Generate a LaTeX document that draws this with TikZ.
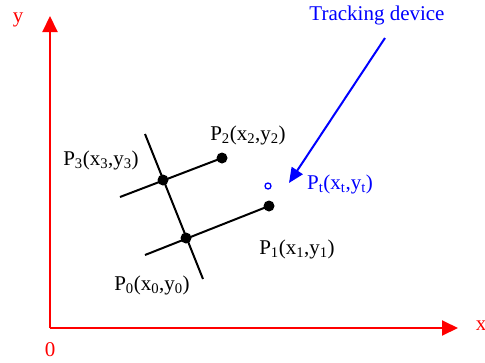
\documentclass[tikz,border=0pt]{standalone}
\usepackage{fontspec}
\setmainfont{Liberation Serif}
\usetikzlibrary{arrows.meta}
\begin{document}
\begin{tikzpicture}[x=1pt,y=-1pt,
  lbl/.style={font=\fontsize{21}{25}\selectfont, inner sep=0pt},
  axis/.style={red, line width=2pt, -{Triangle[length=16pt,width=15pt]}},
  seg/.style={black, line width=2pt},
  dot/.style={circle, fill=black, minimum size=11pt, inner sep=0pt}]
\useasboundingbox (0,0) rectangle (485,362);
% axes
\coordinate (O) at (50,328);
\coordinate (Ytip) at (50,16);
\coordinate (Xtip) at (458,328);
\draw[axis] (O) -- (Ytip);
\draw[axis] (O) -- (Xtip);
\node[lbl, red] (ylab) at (18,20) {y};
\node[lbl, red] (xlab) at (481,326) {x};
\node[lbl, red] (zero) at (50,350) {0};
% points
\node[dot] (P3) at (163,180) {};
\node[dot] (P0) at (186,238) {};
\node[dot] (P2) at (222,158) {};
\node[dot] (P1) at (269,206) {};
\coordinate (A) at (145,134);
\coordinate (B) at (203,279);
\coordinate (C) at (120,197);
\coordinate (D) at (145,255);
\draw[seg] (A) -- (B);
\draw[seg] (C) -- (P2.center);
\draw[seg] (D) -- (P1.center);
% labels
\node[lbl] (L3) at (101,160) {P\textsubscript{3}(x\textsubscript{3},y\textsubscript{3})};
\node[lbl] (L2) at (248,135) {P\textsubscript{2}(x\textsubscript{2},y\textsubscript{2})};
\node[lbl] (L1) at (297,249) {P\textsubscript{1}(x\textsubscript{1},y\textsubscript{1})};
\node[lbl] (L0) at (152,285) {P\textsubscript{0}(x\textsubscript{0},y\textsubscript{0})};
% tracking
\node[circle, draw=blue, line width=1.3pt, minimum size=6pt, inner sep=0pt] (Pt) at (268,186) {};
\node[lbl, blue, anchor=west] (Ltp) at (307,184) {P\textsubscript{t}(x\textsubscript{t},y\textsubscript{t})};
\node[lbl, blue] (td) at (377,15) {Tracking device};
\coordinate (Tstart) at (385,38);
\coordinate (Ttip) at (289,183);
\draw[blue, line width=2pt, -{Triangle[length=15pt,width=13pt]}] (Tstart) -- (Ttip);
\end{tikzpicture}
\end{document}
